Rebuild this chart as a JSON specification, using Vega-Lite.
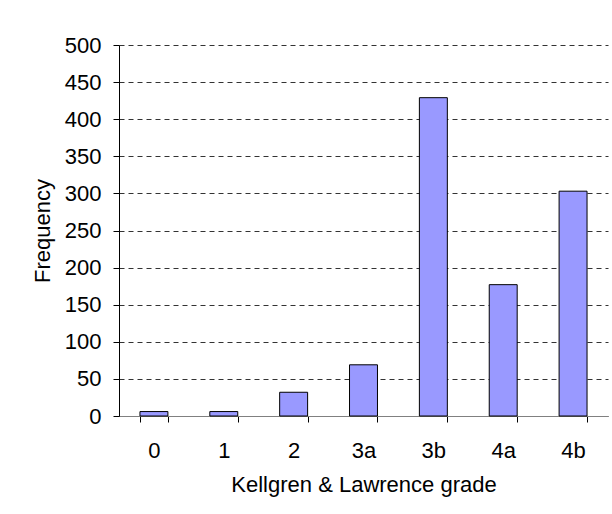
{
  "$schema": "https://vega.github.io/schema/vega-lite/v6.json",
  "width": 489,
  "height": 371,
  "autosize": {"type": "none"},
  "padding": {"left": 119, "top": 45, "right": 4, "bottom": 98},
  "background": "white",
  "config": {
    "view": {"stroke": null},
    "font": "Liberation Sans",
    "axis": {
      "labelFont": "Liberation Sans",
      "titleFont": "Liberation Sans",
      "labelFontSize": 22,
      "titleFontSize": 22,
      "titleFontWeight": "normal",
      "labelColor": "#000000",
      "titleColor": "#000000"
    }
  },
  "data": {
    "values": [
      {"grade": "0", "frequency": 6},
      {"grade": "1", "frequency": 6},
      {"grade": "2", "frequency": 32},
      {"grade": "3a", "frequency": 69},
      {"grade": "3b", "frequency": 429},
      {"grade": "4a", "frequency": 177},
      {"grade": "4b", "frequency": 303}
    ]
  },
  "mark": {"type": "bar", "fill": "#9999FF", "stroke": "#000000", "strokeWidth": 1},
  "encoding": {
    "x": {
      "field": "grade",
      "type": "nominal",
      "sort": null,
      "scale": {"paddingInner": 0.6, "paddingOuter": 0.3},
      "axis": {
        "title": "Kellgren & Lawrence grade",
        "labelAngle": 0,
        "tickBand": "extent",
        "domainColor": "#808080",
        "domainWidth": 1,
        "tickColor": "#000000",
        "tickSize": 6,
        "labelPadding": 18,
        "titlePadding": 13,
        "grid": false
      }
    },
    "y": {
      "field": "frequency",
      "type": "quantitative",
      "scale": {"domain": [0, 500], "nice": false},
      "axis": {
        "title": "Frequency",
        "values": [0, 50, 100, 150, 200, 250, 300, 350, 400, 450, 500],
        "domainColor": "#000000",
        "domainWidth": 1,
        "tickColor": "#000000",
        "tickSize": 6,
        "labelPadding": 12,
        "titlePadding": 10,
        "grid": true,
        "gridColor": "#333333",
        "gridDash": [5, 4],
        "gridWidth": 1
      }
    }
  }
}
